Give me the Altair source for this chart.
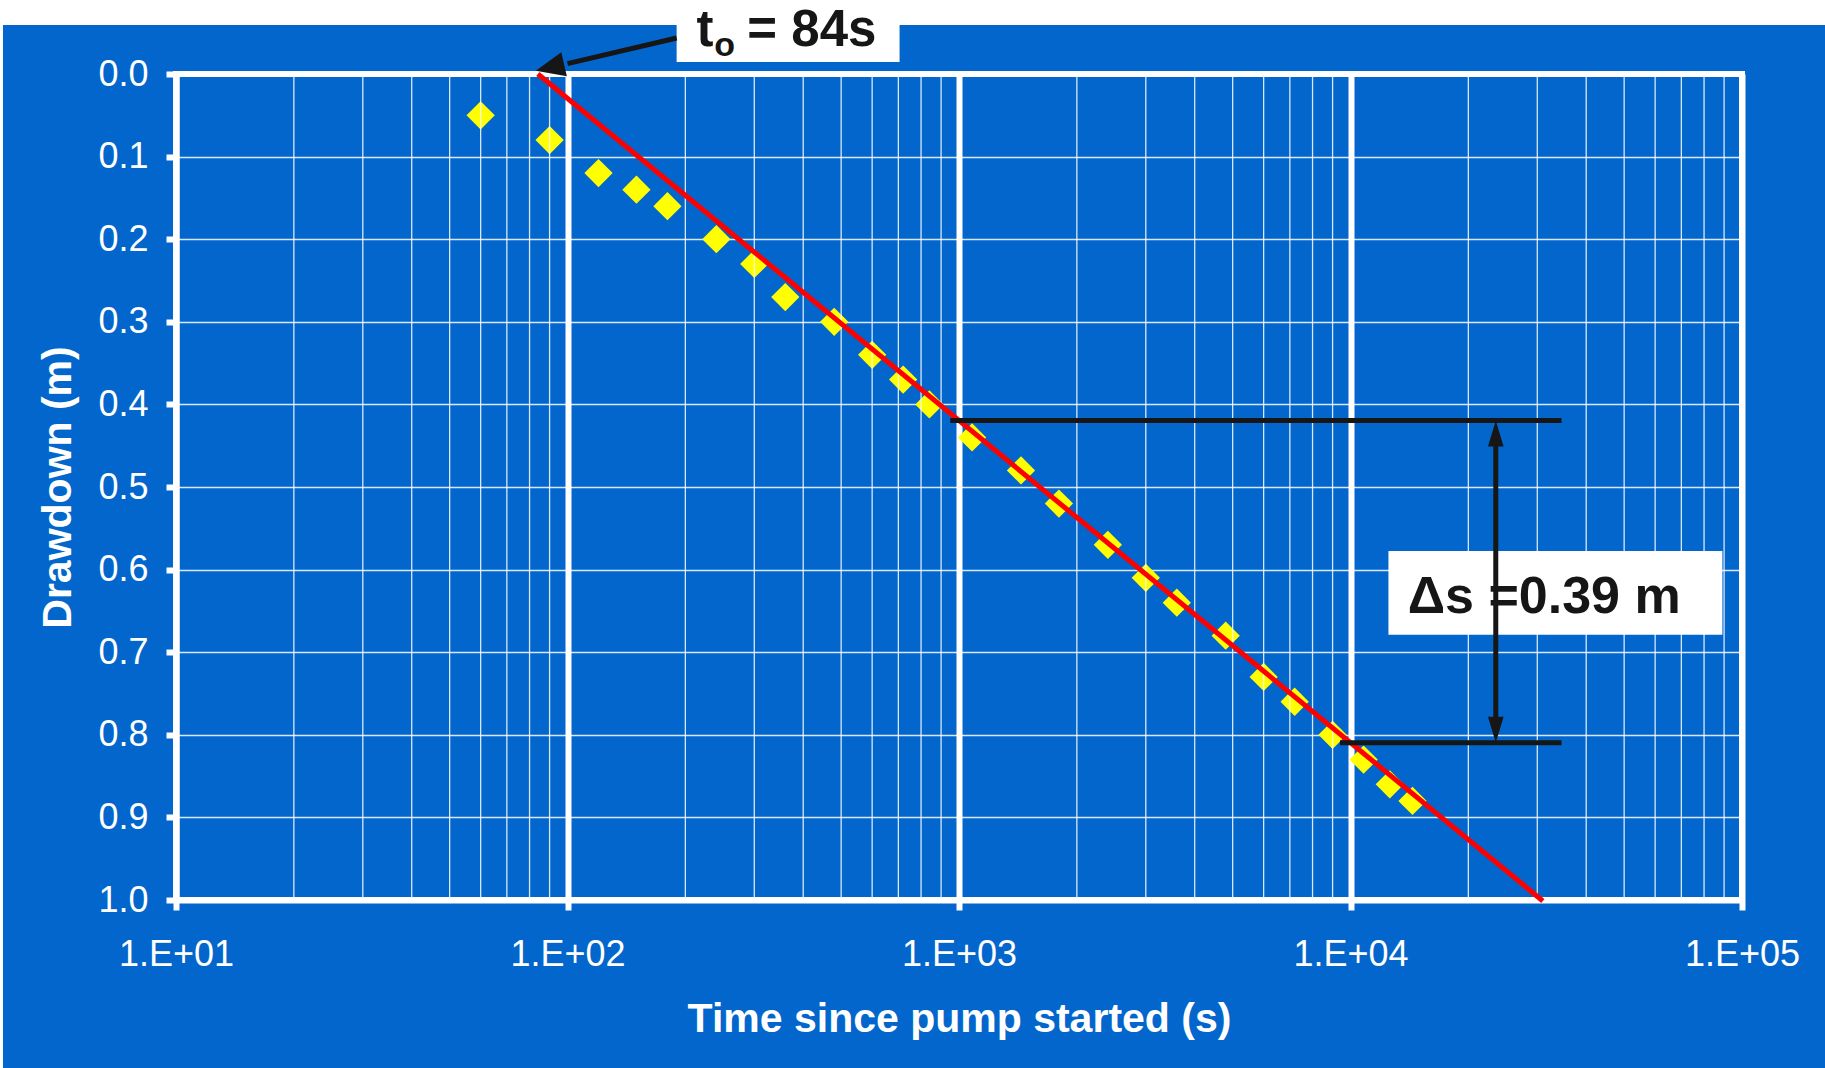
import math

import altair as alt
import pandas as pd

# Observed drawdown during the pumping test
time_s = [60, 90, 120, 150, 180, 240, 300, 360, 480, 600, 720, 840,
          1080, 1440, 1800, 2400, 3000, 3600, 4800, 6000, 7200, 9000,
          10800, 12600, 14400]
drawdown_m = [0.05, 0.08, 0.12, 0.14, 0.16, 0.20, 0.23, 0.27, 0.30, 0.34,
              0.37, 0.40, 0.44, 0.48, 0.52, 0.57, 0.61, 0.64, 0.68, 0.73,
              0.76, 0.80, 0.83, 0.86, 0.88]

# Cooper-Jacob straight line: zero-drawdown intercept and drawdown per log cycle
T0 = 84.0
DELTA_S = 0.39
fit_t = [T0, 31000.0]

# Log-cycle construction (one cycle, 1000 s to 10000 s)
cycle_t = [1000.0, 10000.0]
cycle_rule_start = [950.0, 9400.0]
cycle_rule_end = 34600.0
cycle_arrow_t = 23500.0

# Annotation boxes and label anchors (time, drawdown)
t0_box = {"t": 190.0, "t2": 705.0, "s": -0.0896, "s2": -0.0145}
t0_text_main = {"t": 213.6, "s": -0.0345}
t0_text_sub = {"t": 237.0, "s": -0.0215}
t0_text_rest = {"t": 288.0, "s": -0.0345}
t0_arrow_tail = {"t": 190.0, "s": -0.0436}
t0_arrow_base = {"t": 100.0, "s": -0.0125}
t0_arrow_tip = {"t": 83.0, "s": -0.004}
ds_box = {"t": 12500.0, "t2": 89100.0, "s": 0.5775, "s2": 0.679}
ds_text = {"t": 14000.0, "s": 0.6525}

# Axis tick values
major_ticks = [10, 100, 1000, 10000, 100000]
minor_ticks = [20, 30, 40, 50, 60, 70, 80, 90,
               200, 300, 400, 500, 600, 700, 800, 900,
               2000, 3000, 4000, 5000, 6000, 7000, 8000, 9000,
               20000, 30000, 40000, 50000, 60000, 70000, 80000, 90000]
y_ticks = [0.0, 0.1, 0.2, 0.3, 0.4, 0.5, 0.6, 0.7, 0.8, 0.9, 1.0]

W, H = 1566, 826
PAD = {"left": 176, "top": 74, "right": 1825 - 176 - W, "bottom": 1068 - 74 - H}
BLUE = "#0366cc"
INK = "#161616"
FONT = "Liberation Sans"

obs = pd.DataFrame({"t": time_s, "s": drawdown_m})
fit = pd.DataFrame({"t": fit_t, "s": [DELTA_S * math.log10(t / T0) for t in fit_t]})
cycle_s = [DELTA_S * math.log10(t / T0) for t in cycle_t]
hrules = pd.DataFrame({"t": cycle_rule_start, "t2": [cycle_rule_end] * 2, "s": cycle_s})
vrule = pd.DataFrame({"t": [cycle_arrow_t], "s": [cycle_s[0] + 0.012], "s2": [cycle_s[1] - 0.012]})
head_up = pd.DataFrame({"t": [cycle_arrow_t], "s": [cycle_s[0]]})
head_down = pd.DataFrame({"t": [cycle_arrow_t], "s": [cycle_s[1]]})
minor_df = pd.DataFrame({"t": minor_ticks})

xscale = alt.Scale(type="log", domain=[10, 100000], nice=False)
yscale = alt.Scale(domain=[0, 1], reverse=True, nice=False, zero=False)

x_axis = alt.Axis(
    values=major_ticks,
    labelExpr="'1.E+0' + round(log(datum.value) / LN10)",
    labelOverlap=False, labelFlush=False,
    labelFont=FONT, labelFontSize=36, labelColor="white", labelPadding=27,
    domain=True, domainColor="white", domainWidth=6,
    ticks=True, tickSize=10, tickWidth=6, tickColor="white",
    grid=True, gridColor="white", gridWidth=6, gridOpacity=1,
    title="Time since pump started (s)",
    titleFont=FONT, titleFontSize=41, titleFontWeight="bold", titleColor="white",
    titleX=W / 2, titleY=131, titleBaseline="alphabetic", titleAlign="center",
    orient="bottom",
)
y_axis = alt.Axis(
    values=y_ticks, format=".1f", labelOverlap=False,
    labelFont=FONT, labelFontSize=36, labelColor="white", labelPadding=18,
    domain=True, domainColor="white", domainWidth=6,
    ticks=True, tickSize=10, tickWidth=6, tickColor="white",
    grid=True, gridColor="white", gridWidth=1.3, gridOpacity=0.85,
    title="Drawdown (m)",
    titleFont=FONT, titleFontSize=41, titleFontWeight="bold", titleColor="white",
    titleX=-106, titleY=H / 2, titleBaseline="alphabetic", titleAlign="center",
    orient="left",
)

X = alt.X("t:Q", scale=xscale)
Y = alt.Y("s:Q", scale=yscale)

# White strip along the top and left edge of the panel
frame = pd.DataFrame({"k": [0]})
top_strip = alt.Chart(frame).mark_rect(color="white").encode(
    x=alt.value(-PAD["left"]), x2=alt.value(W + PAD["right"]),
    y=alt.value(-PAD["top"]), y2=alt.value(-PAD["top"] + 25))
left_strip = alt.Chart(frame).mark_rect(color="white").encode(
    x=alt.value(-PAD["left"]), x2=alt.value(-PAD["left"] + 3),
    y=alt.value(-PAD["top"]), y2=alt.value(H + PAD["bottom"]))

# Thin gridlines at the intermediate values of each log cycle
minor_grid = alt.Chart(minor_df).mark_rule(color="white", strokeWidth=1.3, opacity=0.85).encode(
    x=X, y=alt.value(0), y2=alt.value(H))

points = alt.Chart(obs).mark_point(
    shape="diamond", filled=True, size=800, color="#ffff00", opacity=1, strokeWidth=0
).encode(
    x=alt.X("t:Q", scale=xscale, axis=x_axis),
    y=alt.Y("s:Q", scale=yscale, axis=y_axis),
)

fit_line = alt.Chart(fit).mark_line(color="#ff0000", strokeWidth=5).encode(x=X, y=Y)

rules_h = alt.Chart(hrules).mark_rule(color=INK, strokeWidth=5, strokeCap="butt").encode(
    x=X, x2="t2:Q", y=Y)
rule_v = alt.Chart(vrule).mark_rule(color=INK, strokeWidth=5, strokeCap="butt").encode(
    x=X, y=Y, y2="s2:Q")

NARROW_HEAD = "M0,0L-0.6,2L0.6,2Z"
WIDE_HEAD = "M0,0L-0.85,2L0.85,2Z"
arrow_up = alt.Chart(head_up).mark_point(
    shape=NARROW_HEAD, filled=True, size=676, color=INK, opacity=1, strokeWidth=0, angle=0
).encode(x=X, y=Y)
arrow_down = alt.Chart(head_down).mark_point(
    shape=NARROW_HEAD, filled=True, size=676, color=INK, opacity=1, strokeWidth=0, angle=180
).encode(x=X, y=Y)

ds_rect = alt.Chart(pd.DataFrame([ds_box])).mark_rect(color="white").encode(
    x=X, x2="t2:Q", y=Y, y2="s2:Q")
ds_label = alt.Chart(pd.DataFrame([dict(ds_text, label="\u0394s =0.39 m")])).mark_text(
    align="left", baseline="alphabetic", font=FONT, fontSize=52, fontWeight="bold", color=INK
).encode(x=X, y=Y, text="label:N")

t0_rect = alt.Chart(pd.DataFrame([t0_box])).mark_rect(color="white").encode(
    x=X, x2="t2:Q", y=Y, y2="s2:Q")
t0_main = alt.Chart(pd.DataFrame([dict(t0_text_main, label="t")])).mark_text(
    align="left", baseline="alphabetic", font=FONT, fontSize=51, fontWeight="bold", color=INK
).encode(x=X, y=Y, text="label:N")
t0_sub = alt.Chart(pd.DataFrame([dict(t0_text_sub, label="o")])).mark_text(
    align="left", baseline="alphabetic", font=FONT, fontSize=34, fontWeight="bold", color=INK
).encode(x=X, y=Y, text="label:N")
t0_rest = alt.Chart(pd.DataFrame([dict(t0_text_rest, label=f"= {T0:.0f}s")])).mark_text(
    align="left", baseline="alphabetic", font=FONT, fontSize=51, fontWeight="bold", color=INK
).encode(x=X, y=Y, text="label:N")

t0_line_df = pd.DataFrame({"t": [t0_arrow_tail["t"]], "s": [t0_arrow_tail["s"]],
                           "t2": [t0_arrow_base["t"]], "s2": [t0_arrow_base["s"]]})
t0_line = alt.Chart(t0_line_df).mark_rule(color=INK, strokeWidth=5, strokeCap="butt").encode(
    x=X, y=Y, x2="t2:Q", y2="s2:Q")
t0_head = alt.Chart(pd.DataFrame([t0_arrow_tip])).mark_point(
    shape=WIDE_HEAD, filled=True, size=841, color=INK, opacity=1, strokeWidth=0, angle=257
).encode(x=X, y=Y)

chart = alt.layer(
    points, top_strip, left_strip, minor_grid, fit_line, rules_h, ds_rect, ds_label, rule_v,
    arrow_up, arrow_down, t0_rect, t0_main, t0_sub, t0_rest, t0_line, t0_head,
).resolve_scale(x="shared", y="shared").resolve_axis(x="shared", y="shared").properties(
    width=W, height=H,
    padding=PAD,
    autosize=alt.AutoSizeParams(type="none"),
    background=BLUE,
).configure_view(stroke="white", strokeWidth=6)

chart.save("out.html", embed_options={"renderer": "svg", "actions": False})
